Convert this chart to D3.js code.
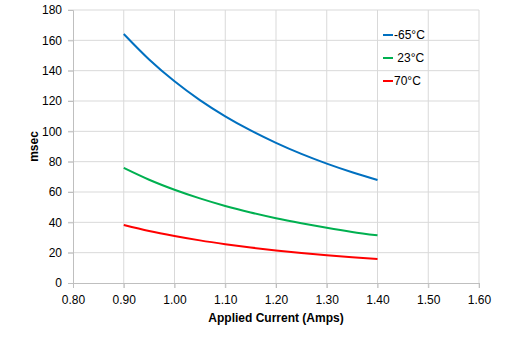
<html>
<head>
<script src="https://cdn.jsdelivr.net/npm/d3@7"></script>
<style>
  body { margin: 0; background: #fff; }
  svg text { font-family: "Liberation Sans", Arial, sans-serif; fill: #000; }
</style>
</head>
<body>
<script>
var current = [0.90, 0.95, 1.00, 1.05, 1.10, 1.15, 1.20, 1.25, 1.30, 1.35, 1.40];
var coldTimes = [164.2, 147.4, 133.0, 120.6, 109.9, 100.6, 92.4, 85.1, 78.7, 73.0, 67.9];
var roomTimes = [75.9, 68.1, 61.5, 55.8, 50.8, 46.5, 42.7, 39.4, 36.4, 33.7, 31.4];
var hotTimes = [38.3, 34.3, 31.0, 28.1, 25.6, 23.4, 21.5, 19.8, 18.3, 17.0, 15.8];
var seriesNames = ["-65°C", " 23°C", "70°C"];
var seriesColors = ["#0070c0", "#00b050", "#ff0000"];
var xTicks = [0.80, 0.90, 1.00, 1.10, 1.20, 1.30, 1.40, 1.50, 1.60];
var yTicks = [0, 20, 40, 60, 80, 100, 120, 140, 160, 180];

var width = 527, height = 360;
var plotLeft = 73, plotRight = 479, plotTop = 10, plotBottom = 283;

var svg = d3.select("body").append("svg")
    .attr("width", width)
    .attr("height", height);

var x = d3.scaleLinear().domain([0.8, 1.6]).range([plotLeft, plotRight]);
var y = d3.scaleLinear().domain([0, 180]).range([plotBottom, plotTop]);

// gridlines
svg.append("g").selectAll("line").data(xTicks.slice(1)).enter().append("line")
    .attr("x1", d => x(d)).attr("x2", d => x(d))
    .attr("y1", plotTop).attr("y2", plotBottom + 5)
    .attr("stroke", "#d9d9d9");
svg.append("g").selectAll("line").data(yTicks.slice(1)).enter().append("line")
    .attr("x1", plotLeft - 5).attr("x2", plotRight)
    .attr("y1", d => y(d)).attr("y2", d => y(d))
    .attr("stroke", "#d9d9d9");

// axes
var xAxis = svg.append("g").attr("transform", "translate(0," + plotBottom + ")")
    .call(d3.axisBottom(x).tickValues(xTicks).tickFormat(d3.format(".2f")).tickSize(5).tickPadding(7));
var yAxis = svg.append("g").attr("transform", "translate(" + plotLeft + ",0)")
    .call(d3.axisLeft(y).tickValues(yTicks).tickSize(5).tickPadding(6));
[xAxis, yAxis].forEach(function(a) {
    a.select(".domain").attr("stroke", "#bfbfbf");
    a.selectAll(".tick line").attr("stroke", "#bfbfbf");
    a.selectAll("text").style("font-size", "12px").attr("fill", "#000");
});

// series
var series = [coldTimes, roomTimes, hotTimes];
var line = d3.line()
    .x((d, i) => x(current[i]))
    .y(d => y(d))
    .curve(d3.curveMonotoneX);
svg.append("g").selectAll("path").data(series).enter().append("path")
    .attr("d", d => line(d))
    .attr("fill", "none")
    .attr("stroke", (d, i) => seriesColors[i])
    .attr("stroke-width", 2);

// legend
var legend = svg.append("g").selectAll("g").data(seriesNames).enter().append("g")
    .attr("transform", (d, i) => "translate(383," + (35 + i * 23) + ")");
legend.append("line")
    .attr("x1", 0).attr("x2", 10)
    .attr("stroke", (d, i) => seriesColors[i])
    .attr("stroke-width", 2);
legend.append("text")
    .attr("x", 11).attr("dy", "0.35em")
    .style("font-size", "12px")
    .style("white-space", "pre")
    .text(d => d);

// titles
svg.append("text")
    .attr("x", (plotLeft + plotRight) / 2).attr("y", 322)
    .attr("text-anchor", "middle")
    .style("font-size", "12px").style("font-weight", "bold")
    .text("Applied Current (Amps)");
svg.append("text")
    .attr("transform", "translate(38," + (plotTop + plotBottom) / 2 + ") rotate(-90)")
    .attr("text-anchor", "middle")
    .style("font-size", "12px").style("font-weight", "bold")
    .text("msec");
</script>
</body>
</html>
